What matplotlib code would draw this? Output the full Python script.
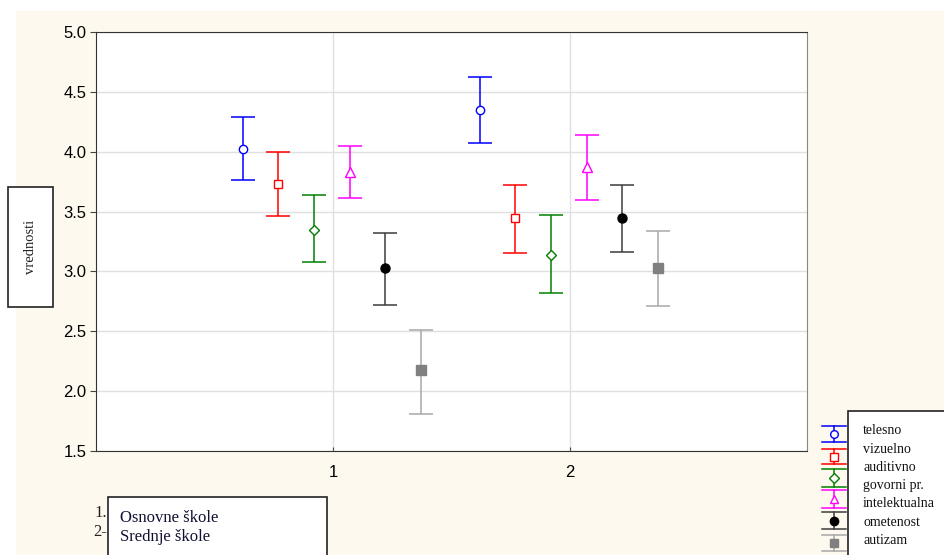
import numpy as np
import matplotlib.pyplot as plt
from matplotlib.patches import Rectangle

# Data
groups = [1, 2]
group_labels = ["Osnovne škole", "Srednje škole"]
series = ["telesno", "vizuelno", "auditivno", "govorni pr.", "intelektualna ometenost", "autizam"]
legend_lines = ["telesno", "vizuelno", "auditivno", "govorni pr.", "intelektualna", "ometenost", "autizam"]

means = [
    [4.02, 4.35],
    [3.73, 3.45],
    [3.35, 3.14],
    [3.83, 3.87],
    [3.03, 3.45],
    [2.18, 3.03],
]
lower = [
    [3.76, 4.07],
    [3.46, 3.15],
    [3.08, 2.82],
    [3.61, 3.60],
    [2.72, 3.16],
    [1.81, 2.71],
]
upper = [
    [4.29, 4.62],
    [4.00, 3.72],
    [3.64, 3.47],
    [4.05, 4.14],
    [3.32, 3.72],
    [2.51, 3.34],
]

# Styles
bar_colors = ["#0000ff", "#ff0000", "#008000", "#ff00ff", "#3c3c3c", "#a8a8a8"]
mk_colors = ["#0000ff", "#ff0000", "#008000", "#ff00ff", "#000000", "#808080"]
markers = ["o", "s", "D", "^", "o", "s"]
filled = [False, False, False, False, True, True]
msizes = [6, 6, 5.5, 6.5, 6.5, 6.5]
offsets = [-0.38, -0.23, -0.08, 0.07, 0.22, 0.37]

W, H = 945, 555
fig = plt.figure(figsize=(W / 100, H / 100), dpi=100, facecolor="white")

# cream backdrop
bg = fig.add_axes([0, 0, 1, 1], zorder=0)
bg.set_xlim(0, W)
bg.set_ylim(H, 0)
bg.axis("off")
bg.add_patch(Rectangle((16, 11), W - 16, H - 11, facecolor="#fef9ee", edgecolor="none"))

ax = fig.add_axes([96 / W, (H - 451) / H, (807 - 96) / W, (451 - 32) / H], zorder=1)
ax.set_facecolor("white")

for i in range(len(series)):
    x = np.array(groups) + offsets[i]
    m = np.array(means[i])
    lo = m - np.array(lower[i])
    hi = np.array(upper[i]) - m
    ax.errorbar(x, m, yerr=[lo, hi], fmt="none", ecolor=bar_colors[i],
                elinewidth=1.1, capsize=8.5, capthick=1.1, zorder=3)
    ax.plot(x, m, linestyle="none", marker=markers[i], markersize=msizes[i],
            markeredgecolor=mk_colors[i], markeredgewidth=1,
            markerfacecolor=mk_colors[i] if filled[i] else "white", zorder=4)

ax.set_xlim(0, 3)
ax.set_ylim(1.5, 5.0)
ax.set_xticks(groups)
ax.set_xticklabels([str(g) for g in groups])
ax.set_yticks(np.arange(1.5, 5.01, 0.5))
ax.set_yticklabels([f"{v:.1f}" for v in np.arange(1.5, 5.01, 0.5)])
ax.grid(True, color="#e0e0e0", linewidth=1)
ax.set_axisbelow(True)
ax.tick_params(axis="x", direction="in", length=3, pad=10, labelsize=12, color="#444444")
ax.tick_params(axis="y", direction="out", length=4, pad=3, labelsize=12, color="#444444")
for lab in ax.get_xticklabels() + ax.get_yticklabels():
    lab.set_fontfamily("Liberation Sans")
for s in ["left", "bottom", "top"]:
    ax.spines[s].set_color("#333333")
ax.spines["right"].set_color("#888888")

# overlay for the boxes, in pixel units
ov = fig.add_axes([0, 0, 1, 1], zorder=2)
ov.set_xlim(0, W)
ov.set_ylim(H, 0)
ov.axis("off")
ov.patch.set_alpha(0)

serif = "Liberation Serif"

# y label box
ov.add_patch(Rectangle((8, 187), 45, 120, facecolor="white", edgecolor="#222222", lw=1.2))
ov.text(30.5, 247, "vrednosti", rotation=90, ha="center", va="center",
        fontsize=10.5, family=serif, color="#222222")

# group box
ov.add_patch(Rectangle((108, 497), 219, 70, facecolor="white", edgecolor="#222222", lw=1.2, clip_on=False))
for k, lbl in enumerate(group_labels):
    ov.text(120, 518 + 19 * k, lbl, ha="left", va="center", fontsize=12, family=serif, color="#111133")
    ov.text(107, 513 + 19 * k, f"{groups[k]}." if k == 0 else f"{groups[k]}-", ha="right",
            va="center", fontsize=12, family=serif, color="#222222")

# series legend
ov.add_patch(Rectangle((848, 411), 110, 160, facecolor="white", edgecolor="#222222", lw=1.2, clip_on=False))
for k, txt in enumerate(legend_lines):
    ov.text(863, 431 + 18.2 * k, txt, ha="left", va="center", fontsize=10, family=serif, color="#111111")

sym_rows = [(426, 442), (449, 464), (469, 487), (490, 508), (512, 529), (535, 551)]
for i, (t, b) in enumerate(sym_rows):
    xc = 834
    ov.plot([xc - 12, xc + 12], [t, t], color=bar_colors[i], lw=1.1)
    ov.plot([xc - 12, xc + 12], [b, b], color=bar_colors[i], lw=1.1)
    ov.plot([xc, xc], [t, b], color=bar_colors[i], lw=1.1)
    ov.plot([xc], [(t + b) / 2], linestyle="none", marker=markers[i], markersize=msizes[i] - 0.5,
            markeredgecolor=mk_colors[i], markeredgewidth=1,
            markerfacecolor=mk_colors[i] if filled[i] else "white")

fig.savefig("out.png", dpi=100, facecolor=fig.get_facecolor())
